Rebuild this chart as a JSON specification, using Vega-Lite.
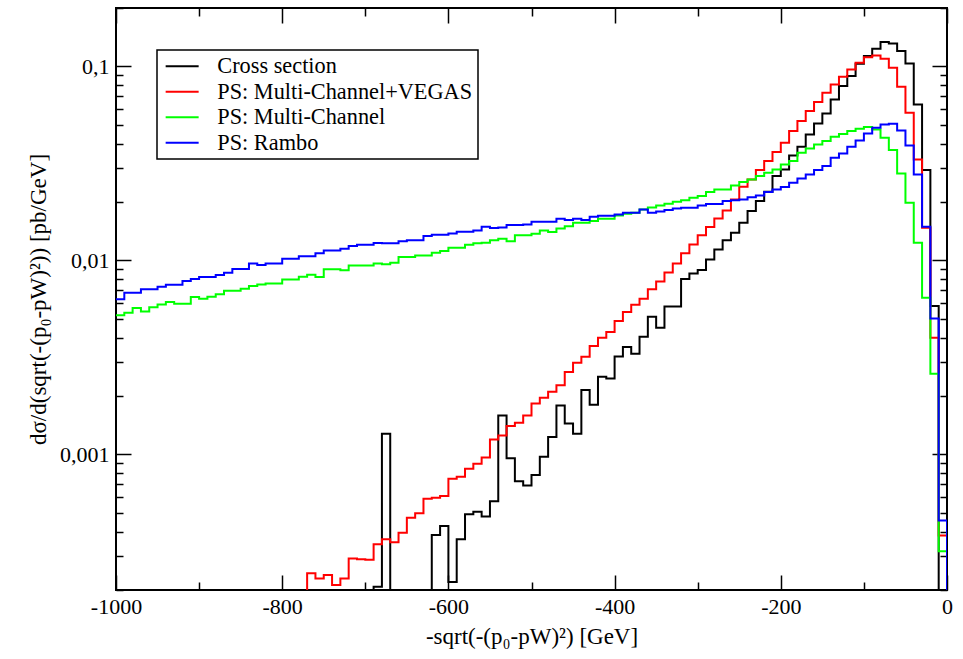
{
  "$schema": "https://vega.github.io/schema/vega-lite/v6.json",
  "autosize": {"type": "none"},
  "padding": {"left": 116, "top": 8, "right": 16, "bottom": 69},
  "width": 831,
  "height": 582,
  "background": "white",
  "config": {
    "font": "Liberation Serif",
    "view": {"stroke": "black", "strokeWidth": 2},
    "axis": {"domain": false, "grid": false, "labelFont": "Liberation Serif", "labelFontSize": 22, "labelColor": "black", "titleFont": "Liberation Serif", "titleFontSize": 23, "titleFontWeight": "normal", "titleColor": "black", "tickColor": "black", "tickWidth": 1.5, "ticks": true},
    "legend": {"strokeWidth": 1.5}
  },
  "data": {"values": [
    {"x":-1000,"k":1e-7,"r":1e-7,"g":0.00521,"b":0.0063},
    {"x":-990,"k":1e-7,"r":1e-7,"g":0.00538,"b":0.00681},
    {"x":-980,"k":1e-7,"r":1e-7,"g":0.00568,"b":0.00681},
    {"x":-970,"k":1e-7,"r":1e-7,"g":0.00546,"b":0.00709},
    {"x":-960,"k":1e-7,"r":1e-7,"g":0.00574,"b":0.00709},
    {"x":-950,"k":1e-7,"r":1e-7,"g":0.00593,"b":0.00732},
    {"x":-940,"k":1e-7,"r":1e-7,"g":0.0061,"b":0.00749},
    {"x":-930,"k":1e-7,"r":1e-7,"g":0.00598,"b":0.00749},
    {"x":-920,"k":1e-7,"r":1e-7,"g":0.00598,"b":0.00782},
    {"x":-910,"k":1e-7,"r":1e-7,"g":0.00647,"b":0.00801},
    {"x":-900,"k":1e-7,"r":1e-7,"g":0.00635,"b":0.0082},
    {"x":-890,"k":1e-7,"r":1e-7,"g":0.0065,"b":0.0082},
    {"x":-880,"k":1e-7,"r":1e-7,"g":0.0067,"b":0.0084},
    {"x":-870,"k":1e-7,"r":1e-7,"g":0.00698,"b":0.00864},
    {"x":-860,"k":1e-7,"r":1e-7,"g":0.00698,"b":0.00902},
    {"x":-850,"k":1e-7,"r":1e-7,"g":0.00715,"b":0.00902},
    {"x":-840,"k":1e-7,"r":1e-7,"g":0.00737,"b":0.00965},
    {"x":-830,"k":1e-7,"r":1e-7,"g":0.00752,"b":0.00946},
    {"x":-820,"k":1e-7,"r":1e-7,"g":0.00761,"b":0.00965},
    {"x":-810,"k":1e-7,"r":1e-7,"g":0.00761,"b":0.00965},
    {"x":-800,"k":1e-7,"r":1e-7,"g":0.00798,"b":0.0102},
    {"x":-790,"k":1e-7,"r":1e-7,"g":0.00798,"b":0.0102},
    {"x":-780,"k":1e-7,"r":1e-7,"g":0.00824,"b":0.01052},
    {"x":-770,"k":1e-7,"r":0.000244,"g":0.00844,"b":0.01052},
    {"x":-760,"k":1e-7,"r":0.000229,"g":0.0082,"b":0.01087},
    {"x":-750,"k":1e-7,"r":0.000239,"g":0.00899,"b":0.01126},
    {"x":-740,"k":1e-7,"r":0.000212,"g":0.00899,"b":0.01126},
    {"x":-730,"k":1e-7,"r":0.000229,"g":0.0089,"b":0.01149},
    {"x":-720,"k":1e-7,"r":0.000291,"g":0.00942,"b":0.01185},
    {"x":-710,"k":1e-7,"r":0.000288,"g":0.00942,"b":0.01205},
    {"x":-700,"k":1e-7,"r":0.000286,"g":0.00942,"b":0.01205},
    {"x":-690,"k":0.000208,"r":0.000344,"g":0.00965,"b":0.01228},
    {"x":-680,"k":0.001279,"r":0.000365,"g":0.00954,"b":0.01224},
    {"x":-670,"k":1e-7,"r":0.000353,"g":0.00973,"b":0.01224},
    {"x":-660,"k":1e-7,"r":0.000395,"g":0.0104,"b":0.01257},
    {"x":-650,"k":1e-7,"r":0.000472,"g":0.0104,"b":0.01272},
    {"x":-640,"k":1e-7,"r":0.000497,"g":0.01061,"b":0.01272},
    {"x":-630,"k":1e-7,"r":0.000591,"g":0.01061,"b":0.01335},
    {"x":-620,"k":0.000384,"r":0.000598,"g":0.01096,"b":0.01357},
    {"x":-610,"k":0.000427,"r":0.00061,"g":0.01117,"b":0.01357},
    {"x":-600,"k":0.00022,"r":0.000749,"g":0.01163,"b":0.01378},
    {"x":-590,"k":0.000365,"r":0.000767,"g":0.01163,"b":0.01406},
    {"x":-580,"k":0.000491,"r":0.000844,"g":0.01205,"b":0.01406},
    {"x":-570,"k":0.000507,"r":0.000896,"g":0.01224,"b":0.01428},
    {"x":-560,"k":0.000479,"r":0.000965,"g":0.01234,"b":0.01492},
    {"x":-550,"k":0.000574,"r":0.001195,"g":0.01272,"b":0.01467},
    {"x":-540,"k":0.001589,"r":0.001253,"g":0.01294,"b":0.01479},
    {"x":-530,"k":0.000954,"r":0.001399,"g":0.01257,"b":0.01521},
    {"x":-520,"k":0.000728,"r":0.001457,"g":0.01346,"b":0.01521},
    {"x":-510,"k":0.000692,"r":0.001589,"g":0.01346,"b":0.01533},
    {"x":-500,"k":0.000782,"r":0.001832,"g":0.01373,"b":0.01583},
    {"x":-490,"k":0.000973,"r":0.00196,"g":0.01428,"b":0.01583},
    {"x":-480,"k":0.001228,"r":0.002104,"g":0.01399,"b":0.01583},
    {"x":-470,"k":0.001789,"r":0.002269,"g":0.01462,"b":0.0164},
    {"x":-460,"k":0.001445,"r":0.002656,"g":0.01502,"b":0.01613},
    {"x":-450,"k":0.001279,"r":0.00297,"g":0.01564,"b":0.0164},
    {"x":-440,"k":0.002145,"r":0.003189,"g":0.01564,"b":0.01613},
    {"x":-430,"k":0.001804,"r":0.003616,"g":0.01594,"b":0.0168},
    {"x":-420,"k":0.002515,"r":0.003996,"g":0.0164,"b":0.017},
    {"x":-410,"k":0.002465,"r":0.00427,"g":0.0164,"b":0.017},
    {"x":-400,"k":0.0032,"r":0.004866,"g":0.01706,"b":0.01726},
    {"x":-390,"k":0.003574,"r":0.005415,"g":0.01741,"b":0.01762},
    {"x":-380,"k":0.003303,"r":0.005909,"g":0.01762,"b":0.01762},
    {"x":-370,"k":0.004044,"r":0.00635,"g":0.01832,"b":0.01832},
    {"x":-360,"k":0.005126,"r":0.00709,"g":0.01876,"b":0.01762},
    {"x":-350,"k":0.004498,"r":0.007792,"g":0.01921,"b":0.01789},
    {"x":-340,"k":0.005794,"r":0.008672,"g":0.0196,"b":0.01817},
    {"x":-330,"k":0.005794,"r":0.00965,"g":0.02007,"b":0.01854},
    {"x":-320,"k":0.00801,"r":0.01087,"g":0.02045,"b":0.01869},
    {"x":-310,"k":0.00857,"r":0.01209,"g":0.02104,"b":0.01869},
    {"x":-300,"k":0.008913,"r":0.01346,"g":0.02145,"b":0.01921},
    {"x":-290,"k":0.01012,"r":0.01488,"g":0.02249,"b":0.01951},
    {"x":-280,"k":0.01139,"r":0.01646,"g":0.02323,"b":0.01951},
    {"x":-270,"k":0.01272,"r":0.0181,"g":0.02323,"b":0.02021},
    {"x":-260,"k":0.01389,"r":0.02062,"g":0.02436,"b":0.02045},
    {"x":-250,"k":0.01564,"r":0.02399,"g":0.02533,"b":0.02062},
    {"x":-240,"k":0.01795,"r":0.02616,"g":0.02616,"b":0.02119},
    {"x":-230,"k":0.02021,"r":0.02921,"g":0.0272,"b":0.02163},
    {"x":-220,"k":0.0226,"r":0.0325,"g":0.02832,"b":0.02249},
    {"x":-210,"k":0.0272,"r":0.03616,"g":0.02945,"b":0.02323},
    {"x":-200,"k":0.02945,"r":0.04044,"g":0.03125,"b":0.02387},
    {"x":-190,"k":0.03477,"r":0.0464,"g":0.03258,"b":0.02515},
    {"x":-180,"k":0.03855,"r":0.05224,"g":0.03591,"b":0.02647},
    {"x":-170,"k":0.04461,"r":0.05884,"g":0.03779,"b":0.02775},
    {"x":-160,"k":0.05085,"r":0.06546,"g":0.03963,"b":0.02921},
    {"x":-150,"k":0.05724,"r":0.07318,"g":0.0412,"b":0.03069},
    {"x":-140,"k":0.06759,"r":0.08076,"g":0.04341,"b":0.03384},
    {"x":-130,"k":0.07914,"r":0.0885,"g":0.04488,"b":0.03561},
    {"x":-120,"k":0.08913,"r":0.0965,"g":0.0464,"b":0.03855},
    {"x":-110,"k":0.1033,"r":0.1045,"g":0.04774,"b":0.04155},
    {"x":-100,"k":0.113,"r":0.1116,"g":0.04865,"b":0.04515},
    {"x":-90,"k":0.1234,"r":0.1139,"g":0.04734,"b":0.04831},
    {"x":-80,"k":0.1335,"r":0.1096,"g":0.0429,"b":0.05024},
    {"x":-70,"k":0.1314,"r":0.09847,"g":0.03704,"b":0.05066},
    {"x":-60,"k":0.1199,"r":0.07859,"g":0.02809,"b":0.04679},
    {"x":-50,"k":0.1036,"r":0.05771,"g":0.01983,"b":0.03915},
    {"x":-40,"k":0.0637,"r":0.03316,"g":0.01234,"b":0.02775},
    {"x":-30,"k":0.02921,"r":0.01474,"g":0.00642,"b":0.01492},
    {"x":-20,"k":0.005814,"r":0.003996,"g":0.002606,"b":0.00502},
    {"x":-10,"k":1e-7,"r":0.000382,"g":0.000317,"b":0.000457},
    {"x":0,"k":1e-7,"r":1e-7,"g":1e-7,"b":1e-7}
  ]},
  "transform": [{"fold": ["k", "r", "g", "b"], "as": ["s", "v"]}],
  "resolve": {"axis": {"x": "independent", "y": "independent"}},
  "layer": [
    {
      "mark": {"type": "line", "interpolate": "step-after", "strokeWidth": 2, "clip": true},
      "encoding": {
        "x": {"field": "x", "type": "quantitative",
          "scale": {"domain": [-1000, 0], "nice": false, "zero": false},
          "axis": {"orient": "bottom", "title": "-sqrt(-(p₀-pW)²) [GeV]", "titlePadding": 8,
            "values": [-1000,-800,-600,-400,-200,0],
            "labelExpr": "'' + datum.value",
            "labelPadding": 21, "labelFlush": false, "tickSize": -15}},
        "y": {"field": "v", "type": "quantitative",
          "scale": {"type": "log", "domain": [0.0002, 0.2], "nice": false},
          "axis": {"orient": "left", "title": "dσ/d(sqrt(-(p₀-pW)²)) [pb/GeV]", "titlePadding": 9,
            "values": [0.001, 0.01, 0.1],
            "labelExpr": "datum.value === 0.1 ? '0,1' : datum.value === 0.01 ? '0,01' : '0,001'",
            "labelPadding": 22, "labelFlush": false, "tickSize": -15}},
        "color": {"field": "s", "type": "nominal",
          "scale": {"domain": ["k", "r", "g", "b"], "range": ["#000000", "#ff0000", "#00ff00", "#0000ff"]},
          "legend": {"orient": "none", "legendX": 41, "legendY": 42, "title": null,
            "strokeColor": "black", "fillColor": "white", "padding": 5,
            "symbolType": "M-2,0H2", "symbolSize": 272.25, "symbolStrokeWidth": 2, "symbolOffset": 9,
            "labelFont": "Liberation Serif", "labelFontSize": 22.3, "labelColor": "black", "labelOffset": 24, "rowPadding": 2.5, "labelLimit": 400,
            "labelExpr": "datum.label === 'k' ? 'Cross section' : datum.label === 'r' ? 'PS: Multi-Channel+VEGAS' : datum.label === 'g' ? 'PS: Multi-Channel' : 'PS: Rambo'"}}
      }
    },
    {
      "mark": {"type": "line", "opacity": 0, "clip": true},
      "encoding": {
        "x": {"field": "x", "type": "quantitative",
          "axis": {"orient": "top", "title": null, "labels": false, "values": [-1000,-800,-600,-400,-200,0], "tickSize": -15}},
        "y": {"field": "v", "type": "quantitative",
          "axis": {"orient": "right", "title": null, "labels": false, "values": [0.001, 0.01, 0.1], "tickSize": -15}},
        "detail": {"field": "s", "type": "nominal"}
      }
    },
    {
      "mark": {"type": "line", "opacity": 0, "clip": true},
      "encoding": {
        "x": {"field": "x", "type": "quantitative",
          "axis": {"orient": "bottom", "title": null, "labels": false, "values": [-900,-700,-500,-300,-100], "tickSize": -8}},
        "y": {"field": "v", "type": "quantitative",
          "axis": {"orient": "left", "title": null, "labels": false,
            "values": [0.0002,0.0003,0.0004,0.0005,0.0006,0.0007,0.0008,0.0009,0.002,0.003,0.004,0.005,0.006,0.007,0.008,0.009,0.02,0.03,0.04,0.05,0.06,0.07,0.08,0.09,0.2], "tickSize": -7}},
        "detail": {"field": "s", "type": "nominal"}
      }
    },
    {
      "mark": {"type": "line", "opacity": 0, "clip": true},
      "encoding": {
        "x": {"field": "x", "type": "quantitative",
          "axis": {"orient": "top", "title": null, "labels": false, "values": [-900,-700,-500,-300,-100], "tickSize": -8}},
        "y": {"field": "v", "type": "quantitative",
          "axis": {"orient": "right", "title": null, "labels": false,
            "values": [0.0002,0.0003,0.0004,0.0005,0.0006,0.0007,0.0008,0.0009,0.002,0.003,0.004,0.005,0.006,0.007,0.008,0.009,0.02,0.03,0.04,0.05,0.06,0.07,0.08,0.09,0.2], "tickSize": -7}},
        "detail": {"field": "s", "type": "nominal"}
      }
    }
  ]
}
